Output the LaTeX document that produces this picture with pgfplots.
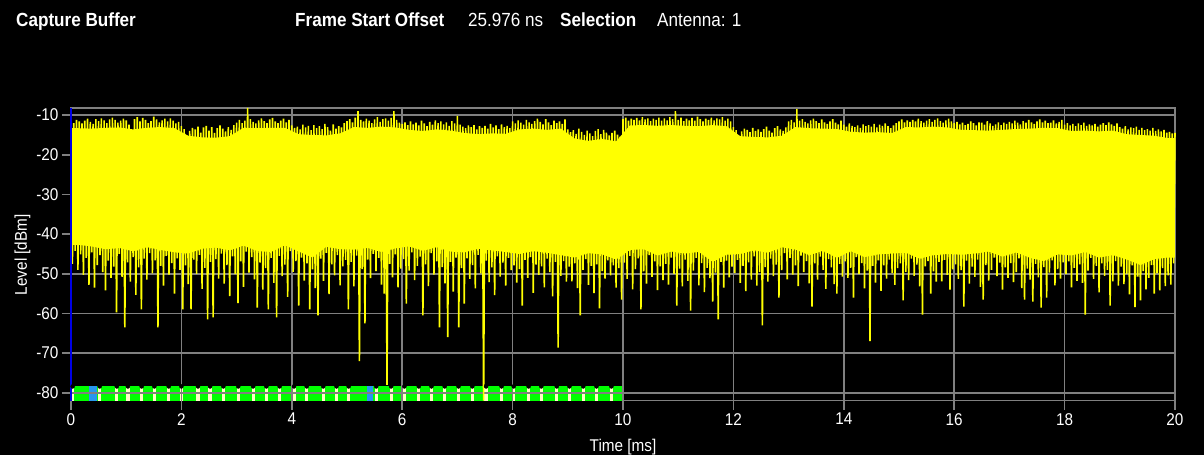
\documentclass[border=0pt]{standalone}
\usepackage{fontspec}
\setmainfont{Liberation Sans}[FakeStretch=0.9]
\usepackage{pgfplots}
\pgfplotsset{compat=1.18}
\definecolor{gridgray}{RGB}{128,128,128}
\definecolor{cream}{RGB}{255,255,200}
\definecolor{sigyellow}{RGB}{255,255,0}
\definecolor{pssblue}{RGB}{40,150,240}
\definecolor{axblue}{RGB}{0,0,230}
\begin{document}
\begin{tikzpicture}
\fill[black] (-71pt,-54.3pt) rectangle (1133pt,400.7pt);
\begin{axis}[
  at={(0pt,0pt)}, anchor=south west,
  scale only axis, width=1104pt, height=292.7pt,
  xmin=0, xmax=20, ymin=-82, ymax=-8.2,
  clip=false,
  axis line style={gridgray, line width=1.5pt},
  grid=major, major grid style={gridgray, line width=1.5pt},
  xtick pos=bottom, ytick pos=left,
  tick align=outside, major tick length=9pt,
  every tick/.style={gridgray, line width=1.5pt},
  xtick={0,2,4,6,8,10,12,14,16,18,20},
  xticklabels={0,2,4,6,8,10,12,14,16,18,20},
  ytick={-80,-70,-60,-50,-40,-30,-20,-10},
  yticklabels={-80,-70,-60,-50,-40,-30,-20,-10},
  ticklabel style={white, font=\fontsize{17}{20}\selectfont},
]
% green capture bar
\addplot[fill=green, draw=none] coordinates {(0,-82) (10,-82) (10,-78.4) (0,-78.4)};
\addplot[fill=pssblue, draw=none] coordinates {(0.33,-82) (0.47,-82) (0.47,-78.4) (0.33,-78.4)};
\addplot[fill=pssblue, draw=none] coordinates {(5.36,-82) (5.47,-82) (5.47,-78.4) (5.36,-78.4)};
\addplot[only marks, mark=none, error bars/.cd, y dir=minus, y explicit, error mark=none,
  error bar style={draw=cream, line width=3.3pt}]
  table[x=x, y=y, y error=e] {
x y e
0.03 -78.4 3.6
0.52 -78.4 3.6
0.83 -78.4 3.6
1.03 -78.4 3.6
1.28 -78.4 3.6
1.51 -78.4 3.6
1.77 -78.4 3.6
2.00 -78.4 3.6
2.30 -78.4 3.6
2.52 -78.4 3.6
2.76 -78.4 3.6
3.03 -78.4 3.6
3.30 -78.4 3.6
3.54 -78.4 3.6
3.78 -78.4 3.6
4.04 -78.4 3.6
4.27 -78.4 3.6
4.57 -78.4 3.6
4.81 -78.4 3.6
5.03 -78.4 3.6
5.53 -78.4 3.6
5.80 -78.4 3.6
6.04 -78.4 3.6
6.30 -78.4 3.6
6.53 -78.4 3.6
6.77 -78.4 3.6
7.02 -78.4 3.6
7.27 -78.4 3.6
7.52 -78.4 3.6
7.80 -78.4 3.6
8.02 -78.4 3.6
8.29 -78.4 3.6
8.52 -78.4 3.6
8.80 -78.4 3.6
9.03 -78.4 3.6
9.28 -78.4 3.6
9.52 -78.4 3.6
9.79 -78.4 3.6
};
\addplot[gridgray, line width=1.5pt] coordinates {(0,-80) (10,-80)};
\addplot[gridgray, line width=1.5pt] coordinates {(2,-82) (2,-78.4)};
\addplot[gridgray, line width=1.5pt] coordinates {(4,-82) (4,-78.4)};
\addplot[gridgray, line width=1.5pt] coordinates {(6,-82) (6,-78.4)};
\addplot[gridgray, line width=1.5pt] coordinates {(8,-82) (8,-78.4)};
\addplot[gridgray, line width=1.5pt] coordinates {(10,-82) (10,-78.4)};
% solid core of the signal
\addplot[fill=sigyellow, draw=none] coordinates {
(0,-13.3) (0.125,-13.3) (0.375,-13.4) (0.625,-13.2) (0.875,-13.1) (1.125,-13.6) (1.375,-13.2) (1.625,-13.0) (1.875,-13.3) (2.125,-15.2) (2.375,-15.6)
(2.625,-15.7) (2.875,-15.3) (3.125,-13.2) (3.375,-13.3) (3.625,-13.2) (3.875,-13.2) (4.125,-14.8) (4.375,-15.0) (4.625,-15.1) (4.875,-14.6)
(5.125,-13.0) (5.375,-13.2) (5.625,-12.9) (5.875,-13.1) (6.125,-13.7) (6.375,-14.0) (6.625,-13.6) (6.875,-13.9) (7.125,-14.5) (7.375,-14.8)
(7.625,-14.6) (7.875,-14.7) (8.125,-13.6) (8.375,-13.4) (8.625,-13.7) (8.875,-13.4) (9.125,-15.9) (9.375,-16.5) (9.625,-16.0) (9.875,-16.6)
(10.125,-12.6) (10.375,-12.5) (10.625,-12.7) (10.875,-12.5) (11.125,-12.7) (11.375,-12.8) (11.625,-12.5) (11.875,-12.8) (12.125,-15.3) (12.375,-15.5)
(12.625,-15.6) (12.875,-15.2) (13.125,-13.0) (13.375,-13.3) (13.625,-13.4) (13.875,-13.5) (14.125,-14.2) (14.375,-14.4) (14.625,-14.3) (14.875,-14.5)
(15.125,-13.0) (15.375,-13.1) (15.625,-12.9) (15.875,-13.1) (16.125,-13.7) (16.375,-13.8) (16.625,-13.9) (16.875,-13.7) (17.125,-13.5) (17.375,-13.4)
(17.625,-13.2) (17.875,-13.3) (18.125,-14.0) (18.375,-13.9) (18.625,-14.1) (18.875,-13.9) (19.125,-14.8) (19.375,-15.0) (19.625,-15.2) (19.875,-15.8)
(20,-15.8) (20,-45.9)
(19.875,-45.9) (19.625,-46.3) (19.375,-47.8) (19.125,-46.4) (18.875,-45.3) (18.625,-45.9) (18.375,-44.5) (18.125,-45.4) (17.875,-45.1) (17.625,-46.8)
(17.375,-46.0) (17.125,-44.6) (16.875,-45.7) (16.625,-44.4) (16.375,-44.9) (16.125,-45.2) (15.875,-45.0) (15.625,-45.3) (15.375,-46.2) (15.125,-44.7)
(14.875,-44.9) (14.625,-45.1) (14.375,-45.8) (14.125,-44.3) (13.875,-46.0) (13.625,-44.2) (13.375,-45.3) (13.125,-43.9) (12.875,-43.3) (12.625,-44.7)
(12.375,-44.1) (12.125,-45.0) (11.875,-45.2) (11.625,-47.0) (11.375,-44.5) (11.125,-44.9) (10.875,-44.4) (10.625,-45.4) (10.375,-43.8) (10.125,-44.0)
(9.875,-46.4) (9.625,-45.1) (9.375,-44.8) (9.125,-45.9) (8.875,-45.3) (8.625,-44.7) (8.375,-44.3) (8.125,-45.0) (7.875,-44.5) (7.625,-44.1)
(7.375,-43.7) (7.125,-44.6) (6.875,-44.4) (6.625,-43.3) (6.375,-44.2) (6.125,-43.1) (5.875,-43.6) (5.625,-44.5) (5.375,-43.5) (5.125,-43.9)
(4.875,-43.8) (4.625,-43.2) (4.375,-45.9) (4.125,-44.4) (3.875,-42.8) (3.625,-44.5) (3.375,-44.3) (3.125,-42.9) (2.875,-44.1) (2.625,-43.4)
(2.375,-43.7) (2.125,-44.9) (1.875,-44.6) (1.625,-44.0) (1.375,-43.3) (1.125,-44.3) (0.875,-43.5) (0.625,-43.8) (0.375,-43.1) (0.125,-42.7)
(0,-42.7)
};
% signal samples: alternating max / min per 25 us
\addplot[sigyellow, line width=1.6pt, line join=bevel]
  table[header=false, row sep=\\, x expr=\coordindex*0.025, y index=0] {
-11.8\\ -47.5\\ -12.0\\ -44.2\\ -11.2\\ -49.0\\ -11.6\\ -45.1\\ -12.1\\ -50.3\\
-11.4\\ -46.0\\ -10.9\\ -52.8\\ -11.7\\ -44.6\\ -12.2\\ -53.5\\ -11.0\\ -47.8\\
-11.5\\ -45.3\\ -10.8\\ -49.6\\ -11.3\\ -54.2\\ -12.0\\ -46.7\\ -11.1\\ -51.0\\
-10.6\\ -48.2\\ -11.2\\ -59.7\\ -11.9\\ -45.0\\ -11.4\\ -50.8\\ -10.9\\ -63.5\\
-11.3\\ -47.1\\ -12.4\\ -52.0\\ -16.0\\ -45.8\\ -11.0\\ -55.3\\ -10.5\\ -48.4\\
-11.6\\ -59.0\\ -10.7\\ -46.2\\ -11.2\\ -51.5\\ -12.0\\ -44.8\\ -11.5\\ -49.9\\
-10.4\\ -46.6\\ -11.1\\ -63.5\\ -11.8\\ -48.0\\ -11.3\\ -53.0\\ -10.9\\ -45.5\\
-11.6\\ -50.2\\ -10.8\\ -47.3\\ -11.4\\ -55.0\\ -12.1\\ -46.1\\ -11.7\\ -49.0\\
-12.8\\ -59.0\\ -13.5\\ -47.9\\ -16.3\\ -52.6\\ -14.0\\ -59.0\\ -13.2\\ -46.4\\
-13.6\\ -50.0\\ -12.9\\ -45.2\\ -14.4\\ -53.8\\ -13.1\\ -48.5\\ -12.7\\ -61.5\\
-13.9\\ -47.0\\ -13.0\\ -61.0\\ -14.5\\ -46.3\\ -13.3\\ -51.2\\ -12.6\\ -44.9\\
-13.4\\ -52.5\\ -14.1\\ -47.8\\ -13.0\\ -55.6\\ -13.7\\ -45.6\\ -12.5\\ -50.1\\
-11.9\\ -57.4\\ -11.2\\ -46.9\\ -12.0\\ -53.3\\ -11.4\\ -44.4\\ -8.2\\ -49.7\\
-11.0\\ -45.8\\ -11.7\\ -51.4\\ -12.1\\ -58.5\\ -11.3\\ -47.2\\ -10.8\\ -54.0\\
-11.5\\ -48.6\\ -12.0\\ -59.0\\ -11.1\\ -46.0\\ -10.7\\ -52.3\\ -11.6\\ -61.0\\
-12.0\\ -45.5\\ -11.4\\ -50.6\\ -10.9\\ -47.7\\ -11.8\\ -55.8\\ -11.2\\ -44.3\\
-12.6\\ -49.5\\ -13.2\\ -46.8\\ -12.9\\ -58.0\\ -13.6\\ -45.9\\ -12.4\\ -51.7\\
-13.1\\ -47.4\\ -12.7\\ -59.0\\ -13.8\\ -48.9\\ -12.5\\ -53.6\\ -13.3\\ -60.5\\
-12.8\\ -46.2\\ -13.5\\ -51.8\\ -12.2\\ -44.7\\ -13.0\\ -55.1\\ -13.9\\ -47.6\\
-12.3\\ -50.4\\ -13.4\\ -45.3\\ -12.8\\ -52.9\\ -13.1\\ -48.1\\ -12.0\\ -46.5\\
-11.5\\ -59.0\\ -11.0\\ -47.0\\ -11.8\\ -53.2\\ -10.6\\ -45.4\\ -9.0\\ -72.0\\
-11.2\\ -48.8\\ -11.6\\ -62.5\\ -10.9\\ -46.4\\ -11.4\\ -51.1\\ -12.0\\ -45.0\\
-11.1\\ -49.3\\ -10.5\\ -46.0\\ -11.7\\ -52.7\\ -11.0\\ -55.0\\ -10.8\\ -78.0\\
-11.4\\ -47.5\\ -10.7\\ -50.9\\ -9.0\\ -45.1\\ -11.2\\ -53.4\\ -11.9\\ -48.7\\
-12.2\\ -46.3\\ -11.8\\ -57.5\\ -12.5\\ -49.2\\ -11.6\\ -44.6\\ -12.3\\ -51.6\\
-11.9\\ -48.0\\ -12.6\\ -45.7\\ -11.4\\ -60.5\\ -12.1\\ -47.6\\ -12.8\\ -53.1\\
-11.7\\ -44.8\\ -12.4\\ -50.2\\ -11.3\\ -46.9\\ -12.0\\ -63.5\\ -11.6\\ -48.3\\
-12.3\\ -52.4\\ -11.8\\ -66.0\\ -12.7\\ -47.0\\ -11.5\\ -54.5\\ -12.1\\ -45.9\\
-10.2\\ -63.5\\ -12.4\\ -48.6\\ -12.9\\ -57.5\\ -13.3\\ -46.1\\ -12.6\\ -51.3\\
-13.0\\ -47.8\\ -12.5\\ -53.7\\ -13.6\\ -45.2\\ -12.8\\ -49.9\\ -13.2\\ -82.0\\
-12.7\\ -46.7\\ -13.4\\ -52.1\\ -12.2\\ -48.4\\ -13.1\\ -55.4\\ -12.6\\ -45.6\\
-13.5\\ -50.7\\ -12.3\\ -47.2\\ -13.0\\ -53.0\\ -12.7\\ -46.0\\ -13.3\\ -49.1\\
-11.6\\ -47.9\\ -12.1\\ -52.2\\ -11.3\\ -48.8\\ -11.9\\ -58.0\\ -12.4\\ -46.5\\
-11.2\\ -51.0\\ -11.8\\ -45.8\\ -12.2\\ -54.8\\ -11.5\\ -47.7\\ -10.9\\ -50.3\\
-11.7\\ -48.1\\ -12.3\\ -53.4\\ -11.0\\ -46.2\\ -11.8\\ -49.6\\ -12.5\\ -55.7\\
-11.4\\ -47.0\\ -12.0\\ -68.6\\ -11.6\\ -50.5\\ -12.2\\ -46.8\\ -11.1\\ -52.0\\
-13.6\\ -48.2\\ -14.3\\ -51.9\\ -13.8\\ -47.4\\ -14.7\\ -53.6\\ -13.4\\ -60.5\\
-14.2\\ -49.0\\ -15.0\\ -46.3\\ -13.9\\ -52.8\\ -14.6\\ -48.0\\ -15.3\\ -54.9\\
-14.0\\ -47.6\\ -13.5\\ -58.7\\ -14.8\\ -49.3\\ -13.7\\ -51.2\\ -14.4\\ -46.6\\
-15.1\\ -50.4\\ -14.5\\ -47.9\\ -13.9\\ -53.5\\ -14.9\\ -48.6\\ -15.4\\ -56.5\\
-11.0\\ -47.2\\ -10.6\\ -51.3\\ -11.4\\ -45.5\\ -10.9\\ -53.9\\ -11.2\\ -48.8\\
-10.7\\ -46.1\\ -11.3\\ -59.0\\ -10.5\\ -49.4\\ -11.1\\ -52.5\\ -10.8\\ -45.3\\
-11.5\\ -50.8\\ -10.9\\ -46.9\\ -11.2\\ -54.1\\ -10.6\\ -48.1\\ -11.4\\ -51.6\\
-10.8\\ -47.5\\ -11.3\\ -52.7\\ -10.5\\ -45.9\\ -11.0\\ -50.0\\ -9.0\\ -58.0\\
-11.2\\ -48.7\\ -10.6\\ -53.2\\ -11.5\\ -46.4\\ -10.9\\ -51.8\\ -11.3\\ -59.3\\
-10.7\\ -49.2\\ -11.4\\ -46.0\\ -10.4\\ -52.9\\ -11.0\\ -47.3\\ -11.6\\ -54.6\\
-10.9\\ -48.5\\ -11.2\\ -51.1\\ -10.6\\ -57.0\\ -11.3\\ -49.7\\ -10.8\\ -61.5\\
-11.1\\ -47.0\\ -10.5\\ -53.5\\ -11.4\\ -46.7\\ -10.9\\ -50.9\\ -11.6\\ -48.2\\
-13.0\\ -49.8\\ -13.8\\ -46.5\\ -16.3\\ -52.3\\ -14.1\\ -48.0\\ -13.4\\ -54.4\\
-13.7\\ -47.1\\ -14.3\\ -51.5\\ -13.2\\ -45.6\\ -14.0\\ -53.0\\ -13.6\\ -49.5\\
-14.2\\ -63.0\\ -13.5\\ -48.3\\ -12.9\\ -52.0\\ -13.9\\ -46.2\\ -14.4\\ -50.6\\
-13.3\\ -47.7\\ -12.8\\ -56.0\\ -13.6\\ -49.1\\ -14.0\\ -44.8\\ -13.1\\ -51.4\\
-11.6\\ -46.0\\ -11.2\\ -50.2\\ -11.8\\ -47.9\\ -8.5\\ -53.1\\ -11.4\\ -45.4\\
-11.0\\ -49.6\\ -11.7\\ -46.8\\ -12.1\\ -52.4\\ -11.3\\ -58.3\\ -10.9\\ -47.4\\
-11.5\\ -51.5\\ -12.0\\ -45.7\\ -11.1\\ -49.0\\ -11.8\\ -53.8\\ -12.2\\ -46.3\\
-11.6\\ -48.4\\ -11.0\\ -52.6\\ -11.9\\ -55.0\\ -12.3\\ -47.5\\ -11.4\\ -50.7\\
-12.4\\ -46.9\\ -12.9\\ -51.0\\ -12.1\\ -48.5\\ -12.7\\ -56.0\\ -13.0\\ -45.8\\
-12.6\\ -50.1\\ -13.2\\ -47.3\\ -12.3\\ -53.7\\ -12.8\\ -49.2\\ -12.5\\ -67.0\\
-12.9\\ -48.0\\ -12.2\\ -52.2\\ -13.1\\ -46.6\\ -12.4\\ -54.3\\ -12.7\\ -47.9\\
-12.1\\ -51.2\\ -12.8\\ -46.4\\ -13.3\\ -49.8\\ -12.6\\ -52.8\\ -12.0\\ -48.6\\
-11.6\\ -47.4\\ -11.1\\ -56.7\\ -11.8\\ -49.5\\ -11.3\\ -51.6\\ -11.7\\ -46.2\\
-11.2\\ -50.5\\ -11.6\\ -47.7\\ -10.9\\ -53.2\\ -11.5\\ -60.3\\ -11.9\\ -48.1\\
-11.4\\ -46.8\\ -11.0\\ -55.0\\ -11.7\\ -49.4\\ -11.2\\ -52.0\\ -10.8\\ -47.0\\
-11.5\\ -51.9\\ -11.9\\ -46.5\\ -11.3\\ -50.3\\ -10.9\\ -54.0\\ -11.6\\ -48.9\\
-12.0\\ -47.6\\ -11.7\\ -51.3\\ -12.3\\ -49.1\\ -11.9\\ -58.3\\ -12.5\\ -46.7\\
-12.2\\ -52.5\\ -11.6\\ -48.2\\ -12.0\\ -50.8\\ -12.6\\ -46.4\\ -11.8\\ -53.3\\
-11.9\\ -56.5\\ -12.4\\ -47.8\\ -11.5\\ -51.7\\ -12.1\\ -49.0\\ -12.7\\ -45.9\\
-12.3\\ -50.6\\ -11.8\\ -47.2\\ -12.5\\ -54.0\\ -11.9\\ -48.4\\ -12.2\\ -51.0\\
-11.7\\ -47.3\\ -12.1\\ -52.1\\ -11.4\\ -49.6\\ -11.9\\ -46.1\\ -12.3\\ -53.6\\
-11.5\\ -56.5\\ -11.9\\ -48.7\\ -11.2\\ -51.5\\ -11.8\\ -57.0\\ -12.2\\ -47.5\\
-11.6\\ -50.9\\ -11.1\\ -58.5\\ -11.8\\ -48.3\\ -11.4\\ -56.0\\ -12.0\\ -49.7\\
-11.9\\ -46.6\\ -11.3\\ -52.9\\ -12.1\\ -48.8\\ -11.7\\ -51.2\\ -11.2\\ -47.1\\
-12.4\\ -50.0\\ -12.0\\ -46.9\\ -12.6\\ -53.4\\ -12.2\\ -48.5\\ -12.8\\ -51.8\\
-12.1\\ -47.6\\ -12.5\\ -52.3\\ -11.9\\ -60.3\\ -12.7\\ -49.2\\ -12.3\\ -46.0\\
-12.6\\ -51.3\\ -12.2\\ -48.0\\ -12.9\\ -54.7\\ -12.4\\ -47.4\\ -12.0\\ -50.5\\
-12.5\\ -49.0\\ -11.8\\ -58.0\\ -12.3\\ -51.9\\ -12.7\\ -46.8\\ -12.1\\ -53.0\\
-13.0\\ -48.2\\ -13.4\\ -52.6\\ -12.8\\ -50.1\\ -13.6\\ -55.2\\ -13.1\\ -47.9\\
-13.3\\ -58.4\\ -12.9\\ -50.7\\ -13.7\\ -56.7\\ -13.2\\ -49.3\\ -13.8\\ -53.9\\
-13.5\\ -51.0\\ -13.9\\ -47.8\\ -13.2\\ -55.0\\ -14.0\\ -49.9\\ -13.6\\ -54.2\\
-14.1\\ -48.6\\ -13.7\\ -53.1\\ -14.4\\ -50.4\\ -14.2\\ -52.7\\ -14.6\\ -47.4\\
-14.5\\
};
\addplot[axblue, line width=1.6pt] coordinates {(0,-82) (0,-8.2)};
\end{axis}
\node[anchor=base west, inner sep=0pt, white, font=\bfseries\fontsize{19}{22}\selectfont] at (-55pt,373.7pt) {Capture Buffer};
\node[anchor=base west, inner sep=0pt, white, font=\bfseries\fontsize{19}{22}\selectfont] at (224pt,373.7pt) {Frame Start Offset};
\node[anchor=base west, inner sep=0pt, white, font=\fontsize{19}{22}\selectfont] at (397pt,373.7pt) {25.976 ns};
\node[anchor=base west, inner sep=0pt, white, font=\bfseries\fontsize{19}{22}\selectfont] at (489pt,373.7pt) {Selection};
\node[anchor=base west, inner sep=0pt, white, font=\fontsize{19}{22}\selectfont] at (586pt,373.7pt) {Antenna: 1};
\node[rotate=90, inner sep=0pt, white, font=\fontsize{17}{20}\selectfont] at (-48.5pt,146pt) {Level [dBm]};
\node[anchor=base, inner sep=0pt, white, font=\fontsize{17}{20}\selectfont] at (552pt,-50.3pt) {Time [ms]};
\end{tikzpicture}
\end{document}
